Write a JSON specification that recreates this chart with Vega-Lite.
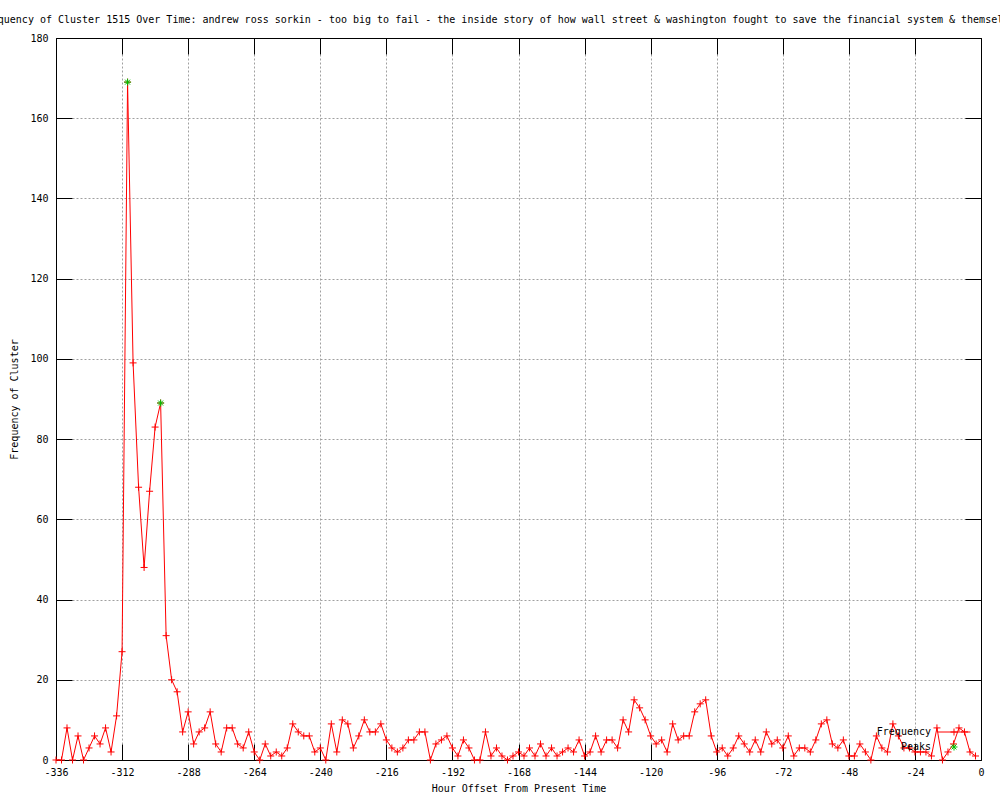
{
  "$schema": "https://vega.github.io/schema/vega-lite/v6.json",
  "width": 925,
  "height": 722,
  "autosize": {"type": "none"},
  "padding": {"left": 56, "top": 38, "right": 19, "bottom": 40},
  "background": "white",
  "title": {
    "text": "Frequency of Cluster 1515 Over Time: andrew ross sorkin - too big to fail - the inside story of how wall street & washington fought to save the financial system & themselves",
    "font": "DejaVu Sans Mono",
    "fontSize": 10,
    "fontWeight": "normal",
    "color": "black",
    "anchor": "middle",
    "dx": -18,
    "baseline": "bottom",
    "offset": -2
  },
  "data": {
    "values": [
      {"hour": -336, "freq": 0, "series": "Frequency"},
      {"hour": -334, "freq": 0, "series": "Frequency"},
      {"hour": -332, "freq": 8, "series": "Frequency"},
      {"hour": -330, "freq": 0, "series": "Frequency"},
      {"hour": -328, "freq": 6, "series": "Frequency"},
      {"hour": -326, "freq": 0, "series": "Frequency"},
      {"hour": -324, "freq": 3, "series": "Frequency"},
      {"hour": -322, "freq": 6, "series": "Frequency"},
      {"hour": -320, "freq": 4, "series": "Frequency"},
      {"hour": -318, "freq": 8, "series": "Frequency"},
      {"hour": -316, "freq": 2, "series": "Frequency"},
      {"hour": -314, "freq": 11, "series": "Frequency"},
      {"hour": -312, "freq": 27, "series": "Frequency"},
      {"hour": -310, "freq": 169, "series": "Frequency"},
      {"hour": -308, "freq": 99, "series": "Frequency"},
      {"hour": -306, "freq": 68, "series": "Frequency"},
      {"hour": -304, "freq": 48, "series": "Frequency"},
      {"hour": -302, "freq": 67, "series": "Frequency"},
      {"hour": -300, "freq": 83, "series": "Frequency"},
      {"hour": -298, "freq": 89, "series": "Frequency"},
      {"hour": -296, "freq": 31, "series": "Frequency"},
      {"hour": -294, "freq": 20, "series": "Frequency"},
      {"hour": -292, "freq": 17, "series": "Frequency"},
      {"hour": -290, "freq": 7, "series": "Frequency"},
      {"hour": -288, "freq": 12, "series": "Frequency"},
      {"hour": -286, "freq": 4, "series": "Frequency"},
      {"hour": -284, "freq": 7, "series": "Frequency"},
      {"hour": -282, "freq": 8, "series": "Frequency"},
      {"hour": -280, "freq": 12, "series": "Frequency"},
      {"hour": -278, "freq": 4, "series": "Frequency"},
      {"hour": -276, "freq": 2, "series": "Frequency"},
      {"hour": -274, "freq": 8, "series": "Frequency"},
      {"hour": -272, "freq": 8, "series": "Frequency"},
      {"hour": -270, "freq": 4, "series": "Frequency"},
      {"hour": -268, "freq": 3, "series": "Frequency"},
      {"hour": -266, "freq": 7, "series": "Frequency"},
      {"hour": -264, "freq": 2, "series": "Frequency"},
      {"hour": -262, "freq": 0, "series": "Frequency"},
      {"hour": -260, "freq": 4, "series": "Frequency"},
      {"hour": -258, "freq": 1, "series": "Frequency"},
      {"hour": -256, "freq": 2, "series": "Frequency"},
      {"hour": -254, "freq": 1, "series": "Frequency"},
      {"hour": -252, "freq": 3, "series": "Frequency"},
      {"hour": -250, "freq": 9, "series": "Frequency"},
      {"hour": -248, "freq": 7, "series": "Frequency"},
      {"hour": -246, "freq": 6, "series": "Frequency"},
      {"hour": -244, "freq": 6, "series": "Frequency"},
      {"hour": -242, "freq": 2, "series": "Frequency"},
      {"hour": -240, "freq": 3, "series": "Frequency"},
      {"hour": -238, "freq": 0, "series": "Frequency"},
      {"hour": -236, "freq": 9, "series": "Frequency"},
      {"hour": -234, "freq": 2, "series": "Frequency"},
      {"hour": -232, "freq": 10, "series": "Frequency"},
      {"hour": -230, "freq": 9, "series": "Frequency"},
      {"hour": -228, "freq": 3, "series": "Frequency"},
      {"hour": -226, "freq": 6, "series": "Frequency"},
      {"hour": -224, "freq": 10, "series": "Frequency"},
      {"hour": -222, "freq": 7, "series": "Frequency"},
      {"hour": -220, "freq": 7, "series": "Frequency"},
      {"hour": -218, "freq": 9, "series": "Frequency"},
      {"hour": -216, "freq": 5, "series": "Frequency"},
      {"hour": -214, "freq": 3, "series": "Frequency"},
      {"hour": -212, "freq": 2, "series": "Frequency"},
      {"hour": -210, "freq": 3, "series": "Frequency"},
      {"hour": -208, "freq": 5, "series": "Frequency"},
      {"hour": -206, "freq": 5, "series": "Frequency"},
      {"hour": -204, "freq": 7, "series": "Frequency"},
      {"hour": -202, "freq": 7, "series": "Frequency"},
      {"hour": -200, "freq": 0, "series": "Frequency"},
      {"hour": -198, "freq": 4, "series": "Frequency"},
      {"hour": -196, "freq": 5, "series": "Frequency"},
      {"hour": -194, "freq": 6, "series": "Frequency"},
      {"hour": -192, "freq": 3, "series": "Frequency"},
      {"hour": -190, "freq": 1, "series": "Frequency"},
      {"hour": -188, "freq": 5, "series": "Frequency"},
      {"hour": -186, "freq": 3, "series": "Frequency"},
      {"hour": -184, "freq": 0, "series": "Frequency"},
      {"hour": -182, "freq": 0, "series": "Frequency"},
      {"hour": -180, "freq": 7, "series": "Frequency"},
      {"hour": -178, "freq": 1, "series": "Frequency"},
      {"hour": -176, "freq": 3, "series": "Frequency"},
      {"hour": -174, "freq": 1, "series": "Frequency"},
      {"hour": -172, "freq": 0, "series": "Frequency"},
      {"hour": -170, "freq": 1, "series": "Frequency"},
      {"hour": -168, "freq": 2, "series": "Frequency"},
      {"hour": -166, "freq": 1, "series": "Frequency"},
      {"hour": -164, "freq": 3, "series": "Frequency"},
      {"hour": -162, "freq": 1, "series": "Frequency"},
      {"hour": -160, "freq": 4, "series": "Frequency"},
      {"hour": -158, "freq": 1, "series": "Frequency"},
      {"hour": -156, "freq": 3, "series": "Frequency"},
      {"hour": -154, "freq": 1, "series": "Frequency"},
      {"hour": -152, "freq": 2, "series": "Frequency"},
      {"hour": -150, "freq": 3, "series": "Frequency"},
      {"hour": -148, "freq": 2, "series": "Frequency"},
      {"hour": -146, "freq": 5, "series": "Frequency"},
      {"hour": -144, "freq": 1, "series": "Frequency"},
      {"hour": -142, "freq": 2, "series": "Frequency"},
      {"hour": -140, "freq": 6, "series": "Frequency"},
      {"hour": -138, "freq": 2, "series": "Frequency"},
      {"hour": -136, "freq": 5, "series": "Frequency"},
      {"hour": -134, "freq": 5, "series": "Frequency"},
      {"hour": -132, "freq": 3, "series": "Frequency"},
      {"hour": -130, "freq": 10, "series": "Frequency"},
      {"hour": -128, "freq": 7, "series": "Frequency"},
      {"hour": -126, "freq": 15, "series": "Frequency"},
      {"hour": -124, "freq": 13, "series": "Frequency"},
      {"hour": -122, "freq": 10, "series": "Frequency"},
      {"hour": -120, "freq": 6, "series": "Frequency"},
      {"hour": -118, "freq": 4, "series": "Frequency"},
      {"hour": -116, "freq": 5, "series": "Frequency"},
      {"hour": -114, "freq": 2, "series": "Frequency"},
      {"hour": -112, "freq": 9, "series": "Frequency"},
      {"hour": -110, "freq": 5, "series": "Frequency"},
      {"hour": -108, "freq": 6, "series": "Frequency"},
      {"hour": -106, "freq": 6, "series": "Frequency"},
      {"hour": -104, "freq": 12, "series": "Frequency"},
      {"hour": -102, "freq": 14, "series": "Frequency"},
      {"hour": -100, "freq": 15, "series": "Frequency"},
      {"hour": -98, "freq": 6, "series": "Frequency"},
      {"hour": -96, "freq": 2, "series": "Frequency"},
      {"hour": -94, "freq": 3, "series": "Frequency"},
      {"hour": -92, "freq": 1, "series": "Frequency"},
      {"hour": -90, "freq": 3, "series": "Frequency"},
      {"hour": -88, "freq": 6, "series": "Frequency"},
      {"hour": -86, "freq": 4, "series": "Frequency"},
      {"hour": -84, "freq": 2, "series": "Frequency"},
      {"hour": -82, "freq": 5, "series": "Frequency"},
      {"hour": -80, "freq": 2, "series": "Frequency"},
      {"hour": -78, "freq": 7, "series": "Frequency"},
      {"hour": -76, "freq": 4, "series": "Frequency"},
      {"hour": -74, "freq": 5, "series": "Frequency"},
      {"hour": -72, "freq": 3, "series": "Frequency"},
      {"hour": -70, "freq": 6, "series": "Frequency"},
      {"hour": -68, "freq": 1, "series": "Frequency"},
      {"hour": -66, "freq": 3, "series": "Frequency"},
      {"hour": -64, "freq": 3, "series": "Frequency"},
      {"hour": -62, "freq": 2, "series": "Frequency"},
      {"hour": -60, "freq": 5, "series": "Frequency"},
      {"hour": -58, "freq": 9, "series": "Frequency"},
      {"hour": -56, "freq": 10, "series": "Frequency"},
      {"hour": -54, "freq": 4, "series": "Frequency"},
      {"hour": -52, "freq": 3, "series": "Frequency"},
      {"hour": -50, "freq": 5, "series": "Frequency"},
      {"hour": -48, "freq": 1, "series": "Frequency"},
      {"hour": -46, "freq": 1, "series": "Frequency"},
      {"hour": -44, "freq": 4, "series": "Frequency"},
      {"hour": -42, "freq": 2, "series": "Frequency"},
      {"hour": -40, "freq": 0, "series": "Frequency"},
      {"hour": -38, "freq": 6, "series": "Frequency"},
      {"hour": -36, "freq": 3, "series": "Frequency"},
      {"hour": -34, "freq": 2, "series": "Frequency"},
      {"hour": -32, "freq": 9, "series": "Frequency"},
      {"hour": -30, "freq": 6, "series": "Frequency"},
      {"hour": -28, "freq": 3, "series": "Frequency"},
      {"hour": -26, "freq": 3, "series": "Frequency"},
      {"hour": -24, "freq": 2, "series": "Frequency"},
      {"hour": -22, "freq": 2, "series": "Frequency"},
      {"hour": -20, "freq": 2, "series": "Frequency"},
      {"hour": -18, "freq": 1, "series": "Frequency"},
      {"hour": -16, "freq": 8, "series": "Frequency"},
      {"hour": -14, "freq": 0, "series": "Frequency"},
      {"hour": -12, "freq": 2, "series": "Frequency"},
      {"hour": -10, "freq": 4, "series": "Frequency"},
      {"hour": -8, "freq": 8, "series": "Frequency"},
      {"hour": -6, "freq": 7, "series": "Frequency"},
      {"hour": -4, "freq": 2, "series": "Frequency"},
      {"hour": -2, "freq": 1, "series": "Frequency"},
      {"hour": -310, "freq": 169, "series": "Peaks"},
      {"hour": -298, "freq": 89, "series": "Peaks"}
    ]
  },
  "layer": [
    {
      "layer": [
        {
          "transform": [{"filter": "datum.series === 'Frequency'"}],
          "mark": {"type": "line", "color": "#ff0000", "strokeWidth": 1},
          "encoding": {
            "x": {
              "field": "hour", "type": "quantitative",
              "scale": {"domain": [-336, 0], "nice": false, "zero": false},
              "axis": {
                "orient": "bottom",
                "title": "Hour Offset From Present Time",
                "values": [-336, -312, -288, -264, -240, -216, -192, -168, -144, -120, -96, -72, -48, -24, 0],
                "labelExpr": "'' + datum.value",
                "labelPadding": 23,
                "titlePadding": 6,
                "grid": true,
                "labelFlush": false,
                "labelOverlap": false
              }
            },
            "y": {
              "field": "freq", "type": "quantitative",
              "scale": {"domain": [0, 180], "nice": false},
              "axis": {
                "orient": "left",
                "title": "Frequency of Cluster",
                "values": [0, 20, 40, 60, 80, 100, 120, 140, 160, 180],
                "labelPadding": 24,
                "titlePadding": 10,
                "grid": true,
                "labelFlush": false,
                "labelOverlap": false
              }
            }
          }
        },
        {
          "transform": [{"filter": "datum.series === 'Frequency'"}],
          "mark": {"type": "point", "filled": false, "strokeWidth": 1, "size": 49, "opacity": 1, "color": "#ff0000", "shape": "M-1,0L1,0M0,-1L0,1"},
          "encoding": {
            "x": {"field": "hour", "type": "quantitative"},
            "y": {"field": "freq", "type": "quantitative"}
          }
        },
        {
          "transform": [{"filter": "datum.series === 'Peaks'"}],
          "mark": {"type": "point", "filled": false, "strokeWidth": 1, "size": 49, "opacity": 1, "color": "#00c000", "shape": "M-1,0L1,0M0,-1L0,1M-0.7,-0.7L0.7,0.7M-0.7,0.7L0.7,-0.7"},
          "encoding": {
            "x": {"field": "hour", "type": "quantitative"},
            "y": {"field": "freq", "type": "quantitative"}
          }
        },
        {
          "transform": [{"filter": "false"}],
          "mark": {"type": "point", "filled": false, "strokeWidth": 1, "size": 49, "opacity": 1},
          "encoding": {
            "x": {"field": "hour", "type": "quantitative"},
            "y": {"field": "freq", "type": "quantitative"},
            "color": {
              "field": "series", "type": "nominal",
              "scale": {"domain": ["Frequency", "Peaks"], "range": ["#ff0000", "#00c000"]},
              "legend": {
                "title": null,
                "orient": "none",
                "legendX": 893,
                "legendY": 689,
                "labelAlign": "right",
                "labelOffset": -28,
                "labelFont": "DejaVu Sans Mono",
                "labelFontSize": 10,
                "labelColor": "black",
                "symbolSize": 49,
                "symbolStrokeWidth": 1,
                "rowPadding": 3,
                "padding": 0
              }
            },
            "shape": {
              "field": "series", "type": "nominal",
              "scale": {"domain": ["Frequency", "Peaks"], "range": ["M-4.7,0L4.7,0M-1,0L1,0M0,-1L0,1", "M-1,0L1,0M0,-1L0,1M-0.7,-0.7L0.7,0.7M-0.7,0.7L0.7,-0.7"]}
            }
          }
        }
      ]
    },
    {
      "mark": {"type": "point", "opacity": 0},
      "encoding": {
        "x": {
          "field": "hour", "type": "quantitative",
          "scale": {"domain": [-336, 0], "nice": false, "zero": false},
          "axis": {"orient": "top", "title": null, "labels": false, "grid": false,
                   "values": [-336, -312, -288, -264, -240, -216, -192, -168, -144, -120, -96, -72, -48, -24, 0]}
        },
        "y": {
          "field": "freq", "type": "quantitative",
          "scale": {"domain": [0, 180], "nice": false},
          "axis": {"orient": "right", "title": null, "labels": false, "grid": false,
                   "values": [0, 20, 40, 60, 80, 100, 120, 140, 160, 180]}
        }
      }
    }
  ],
  "resolve": {
    "scale": {"x": "independent", "y": "independent"},
    "axis": {"x": "independent", "y": "independent"}
  },
  "config": {
    "view": {"stroke": null},
    "axis": {
      "labelFont": "DejaVu Sans Mono",
      "labelFontSize": 10,
      "labelColor": "black",
      "titleFont": "DejaVu Sans Mono",
      "titleFontSize": 10,
      "titleFontWeight": "normal",
      "titleColor": "black",
      "domainColor": "black",
      "domainWidth": 1,
      "tickColor": "black",
      "tickWidth": 1,
      "tickSize": -16,
      "gridColor": "#a0a0a0",
      "gridDash": [2, 2],
      "gridWidth": 1,
      "gridOpacity": 1
    }
  }
}
